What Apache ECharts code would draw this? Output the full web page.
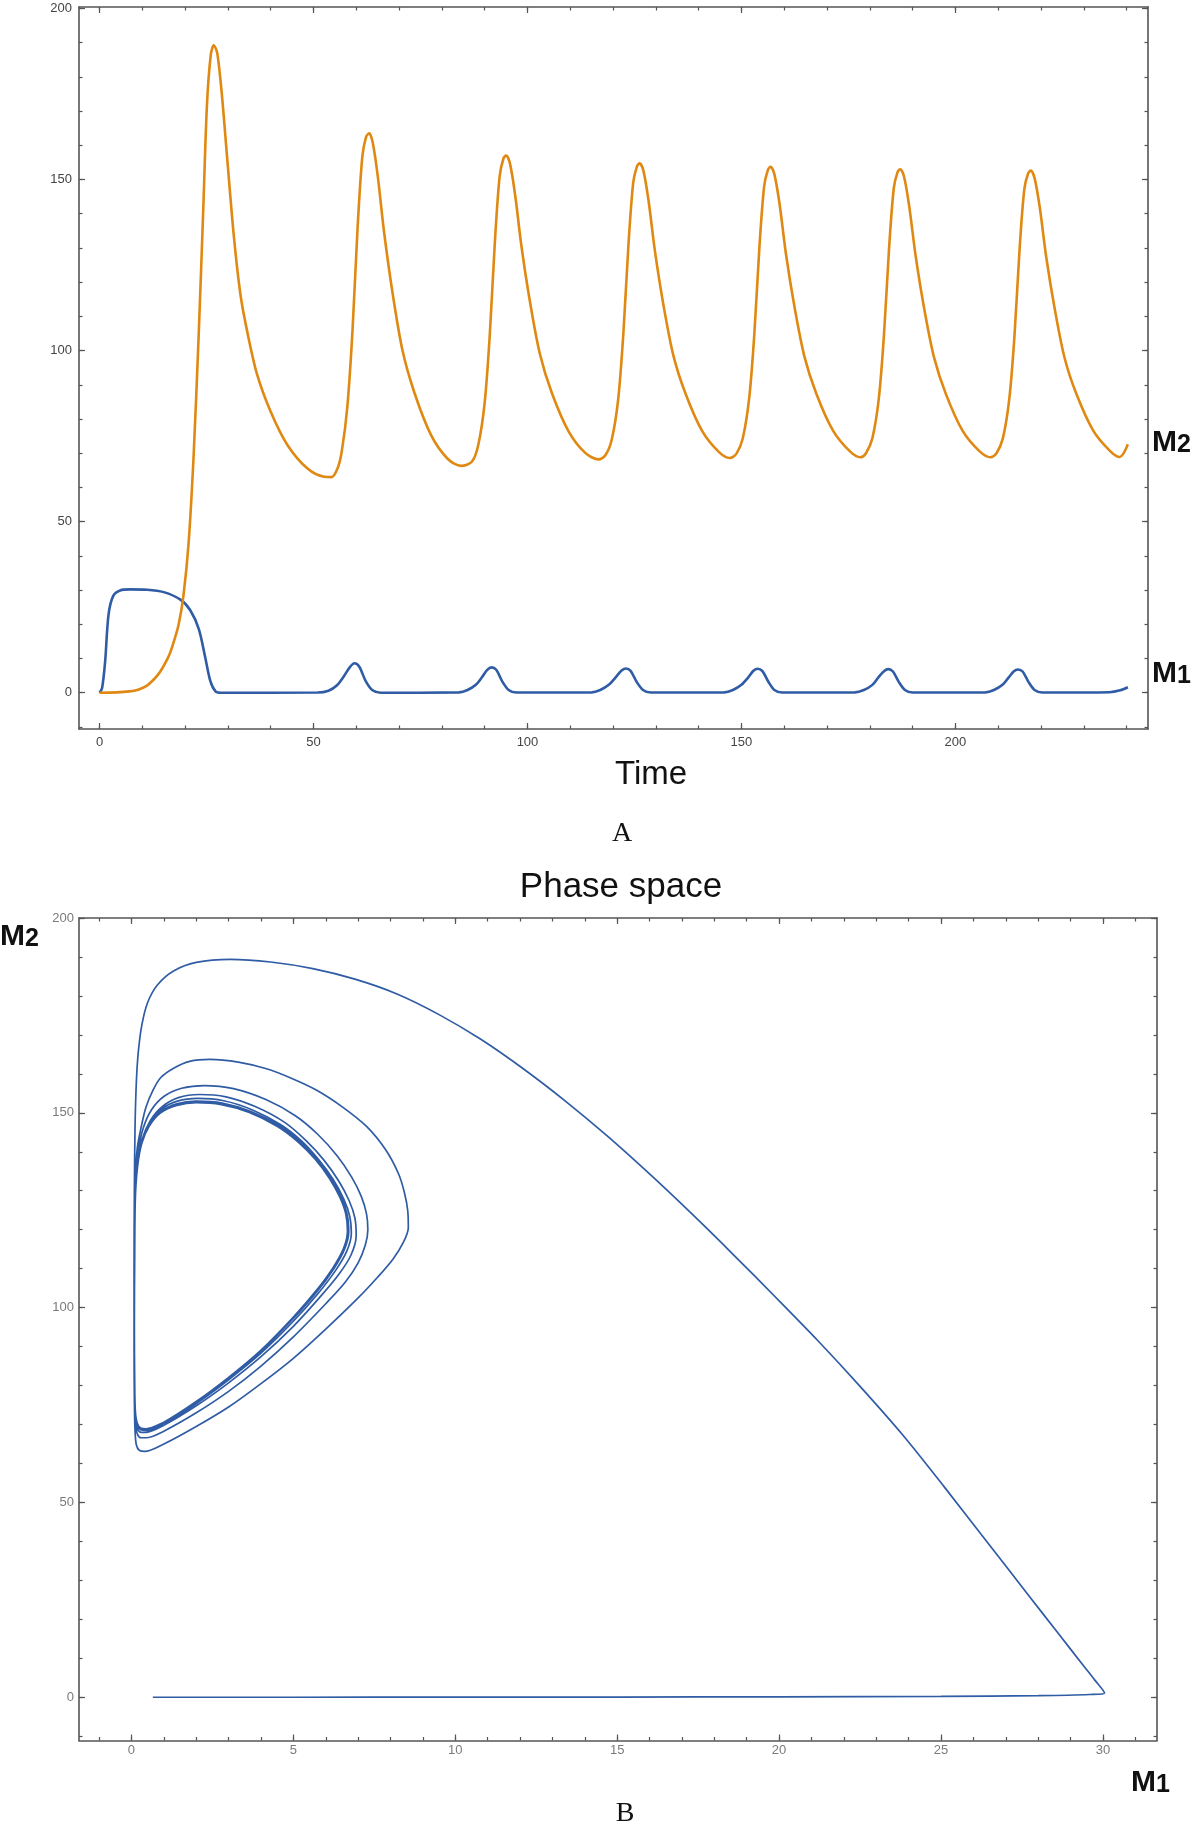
<!DOCTYPE html>
<html>
<head>
<meta charset="utf-8">
<title>M1 / M2 time course and phase space</title>
<script src="https://cdn.jsdelivr.net/npm/echarts@6/dist/echarts.min.js"></script>
<style>
  html, body { margin: 0; padding: 0; background: #fff; }
  #chart { width: 1193px; height: 1826px; }
</style>
</head>
<body>
<div id="chart"></div>
<script>
// ---- panel A: time course ----
const timeM1 = [0, 0.6, 1.3, 2.1, 3.2, 4.8, 7.2, 11.1, 15, 18.9, 21.2, 23.2, 24.7, 25.9, 27.1, 28.3,
  51, 53.5, 55.5, 57.1, 58.5, 59.6, 60.7, 62.2, 63.8, 65.7,
  84, 86, 88, 89.4, 90.6, 91.6, 92.7, 94.1, 95.6, 97.4,
  115, 117, 119, 120.6, 122, 123, 124.1, 125.5, 127, 128.8,
  146, 148, 150, 151.6, 152.8, 153.8, 154.9, 156.3, 157.7, 159.5,
  176.5, 178.6, 180.6, 182, 183.3, 184.3, 185.4, 186.8, 188.2, 190,
  207, 209, 211, 212.4, 213.6, 214.6, 215.7, 217.1, 218.5, 220.3,
  236, 238.5, 240.3];
const valuesM1 = [0, 1.4, 9, 22.8, 28.3, 29.9, 30.2, 30.1, 29.4, 27.2, 24.1, 18.6, 10.3, 3.4, 0.4, 0,
  0.05, 0.6, 2.2, 4.8, 7.5, 8.6, 7.6, 3.4, 0.7, 0,
  0.1, 0.8, 2.4, 4.6, 6.7, 7.4, 6.7, 3.3, 0.8, 0.05,
  0.1, 0.8, 2.3, 4.5, 6.5, 7.1, 6.4, 3.2, 0.8, 0.05,
  0.1, 0.8, 2.3, 4.5, 6.4, 7.0, 6.3, 3.2, 0.8, 0.05,
  0.1, 0.8, 2.3, 4.5, 6.3, 6.9, 6.2, 3.1, 0.8, 0.05,
  0.1, 0.8, 2.3, 4.4, 6.2, 6.8, 6.2, 3.1, 0.8, 0.05,
  0.15, 0.7, 1.6];

const timeM2 = [0, 4, 7, 9, 11, 13, 14.2, 15.5, 16.5, 17.5, 18.5, 19.6, 20.8, 22, 23.2, 24.2, 25.1, 26, 26.7,
  27.5, 28.6, 29.8, 31.4, 32.9, 34.5, 36.8, 40, 43.9, 48.6, 52.5, 54.2,
  55.6, 56.6, 57.9, 59.1, 60.3, 61.4, 62.3, 63, 63.8, 65, 66.5, 68.5, 70.8, 73.6, 77.5, 81.4, 84.5,
  87, 88.5, 90, 91.2, 92.4, 93.5, 94.4, 95, 95.9, 97.1, 98.6, 100.6, 102.9, 105.7, 109.6, 113.5, 116.6,
  118.2, 119.7, 121.2, 122.4, 123.6, 124.7, 125.6, 126.2, 127.1, 128.3, 129.8, 131.8, 134.1, 136.9, 140.8, 144.7, 147.3,
  148.8, 150.3, 151.8, 153, 154.2, 155.3, 156.2, 156.8, 157.7, 158.9, 160.4, 162.4, 164.7, 167.5, 171.4, 175.3, 177.8,
  179.1, 180.6, 182.1, 183.3, 184.5, 185.6, 186.5, 187.1, 188, 189.2, 190.7, 192.7, 195, 197.8, 201.7, 205.6, 208.2,
  209.6, 211.1, 212.6, 213.8, 215, 216.1, 217, 217.6, 218.5, 219.7, 221.2, 223.2, 225.5, 228.3, 232.2, 236.1, 238.4,
  240.3];
const valuesM2 = [0, 0.1, 0.4, 0.9, 2, 4.3, 6.2, 9, 11.7, 15.5, 20, 28.3, 43.5, 69.7, 105.6, 140, 171.8, 186.5, 189.2,
  187, 174.6, 156.6, 133.2, 116.6, 105.6, 93.1, 82.1, 72.4, 65.5, 63.1, 63,
  65.5, 70.5, 83.5, 105.6, 135.9, 156.6, 162.5, 163.5, 161, 151.1, 134.5, 116.6, 100, 87.6, 75.2, 68.3, 66.3,
  67.5, 72.4, 84.8, 104.8, 132.2, 151, 156.2, 157, 154.7, 145.6, 130.4, 114.1, 99, 87.6, 76.4, 70.1, 68.2,
  69.4, 74, 85.8, 104.9, 131, 149, 153.9, 154.7, 152.5, 143.7, 128.9, 113.1, 98.5, 87.5, 76.5, 70.4, 68.6,
  69.8, 74.3, 86, 104.6, 130.3, 148, 152.9, 153.7, 151.5, 142.9, 128.2, 112.7, 98.3, 87.4, 76.6, 70.6, 68.8,
  70, 74.4, 86, 104.5, 130, 147.5, 152.2, 153, 150.8, 142.2, 127.7, 112.3, 98, 87.2, 76.5, 70.6, 68.8,
  70, 74.4, 86, 104.3, 129.8, 147.2, 151.8, 152.6, 150.4, 141.9, 127.5, 112.2, 97.9, 87.2, 76.6, 70.7, 68.9,
  72.6];

const timeTicks = [0, 50, 100, 150, 200];
const timeMinorTicks = [0, 10, 20, 30, 40, 50, 60, 70, 80, 90, 100, 110, 120, 130, 140, 150, 160, 170, 180, 190, 200, 210, 220, 230, 240];
const levelTicks = [0, 50, 100, 150, 200];
const levelMinorTicks = [-10, 0, 10, 20, 30, 40, 50, 60, 70, 80, 90, 100, 110, 120, 130, 140, 150, 160, 170, 180, 190, 200];

// ---- panel B: phase space, [M1, M2] pairs in order of time ----
const phaseStart = [[0.66, 0], [5, 0], [10, 0.02], [15, 0.05], [20, 0.1], [25, 0.2], [28, 0.4], [29.6, 0.7], [30.05, 1.1]];
const phaseArc = [[29.75, 4.4], [29.4, 8.1], [28.6, 16.6], [27.7, 26.2], [26.4, 40.1], [25.1, 54], [23.8, 67.5], [22.5, 79.8],
  [21.2, 91.5], [19.9, 102.6], [18.6, 113.5], [17.3, 124.1], [16, 134.3], [14.7, 144], [13.4, 153], [12.1, 161.3],
  [10.8, 168.8], [9.5, 175.2], [8.2, 180.5], [6.9, 184.3], [5.6, 187], [4.3, 188.7], [3.05, 189.4], [2.0, 188.6],
  [1.3, 186.4], [0.8, 182.8], [0.5, 178.3], [0.32, 172.5], [0.21, 165.5], [0.15, 157.7], [0.11, 146], [0.09, 130],
  [0.08, 110], [0.08, 90], [0.09, 76], [0.11, 68.5], [0.15, 64.8], [0.24, 63.4], [0.41, 63.1]];
const phaseLoop1 = [[1, 65], [2, 69.5], [3, 74.5], [4, 80.5], [5, 87], [6, 94.5], [7, 102.5], [7.6, 107.8], [8.08, 112.5],
  [8.4, 116.8], [8.55, 120.5], [8.53, 125], [8.43, 129.5], [8.25, 134.3], [7.85, 140.5], [7.26, 146.5], [6.5, 151.6],
  [5.72, 155.8], [4.9, 159], [4.17, 161.3], [3.3, 163], [2.42, 163.7], [1.8, 163.2], [1.29, 161.4], [0.9, 159],
  [0.67, 155.9], [0.45, 151.5], [0.31, 146.7], [0.18, 141], [0.12, 133], [0.1, 120], [0.09, 105], [0.09, 88],
  [0.1, 76], [0.13, 70], [0.19, 67.4], [0.3, 66.6], [0.45, 66.6]];
const phaseLoop2 = [[1, 68.3], [2, 73], [3, 78.5], [4, 85], [5, 92.5], [6, 101], [6.6, 106.5], [7.0, 111.5], [7.22, 116],
  [7.3, 120], [7.26, 124], [7.1, 128.5], [6.8, 133.5], [6.35, 139], [5.75, 144.5], [5.05, 149.3], [4.15, 153.4],
  [3.15, 156.2], [2.25, 157], [1.55, 156.3], [1.02, 154.3], [0.62, 150.8], [0.36, 146], [0.21, 140], [0.13, 132],
  [0.1, 118], [0.09, 100], [0.09, 85], [0.1, 76], [0.13, 71], [0.19, 68.8], [0.3, 68], [0.45, 68]];
const phaseLoop3 = [[1, 69.8], [2, 74.8], [3, 80.7], [4, 87.4], [5, 95.2], [5.8, 102.5], [6.4, 108.5], [6.78, 113.5],
  [6.94, 118.5], [6.9, 123], [6.72, 127.5], [6.4, 132.5], [5.95, 137.8], [5.4, 142.8], [4.72, 147.6], [3.82, 151.6],
  [2.92, 154.1], [2.1, 154.7], [1.45, 153.9], [0.95, 151.6], [0.58, 148], [0.33, 143.2], [0.19, 137], [0.12, 128],
  [0.1, 113], [0.09, 95], [0.1, 81], [0.12, 73.5], [0.18, 70], [0.3, 68.6], [0.45, 68.5]];
const phaseLoop4 = [[1, 70.3], [2, 75.4], [3, 81.5], [4, 88.3], [5, 96.5], [5.75, 103.5], [6.3, 109.5], [6.65, 114.5],
  [6.79, 119], [6.74, 123.5], [6.55, 128], [6.22, 133], [5.78, 138], [5.25, 142.8], [4.6, 147], [3.72, 150.8],
  [2.85, 153.1], [2.05, 153.7], [1.42, 153], [0.92, 150.9], [0.56, 147.4], [0.32, 142.8], [0.19, 136.8], [0.12, 128],
  [0.1, 113], [0.09, 95], [0.1, 81], [0.12, 73.5], [0.18, 70.2], [0.3, 68.9], [0.45, 68.8]];
const phaseLoop5 = [[1, 70.5], [2, 75.7], [3, 81.9], [4, 88.8], [5, 97.2], [5.72, 104], [6.25, 110], [6.58, 115],
  [6.71, 119.5], [6.66, 124], [6.47, 128.5], [6.15, 133.3], [5.72, 138.2], [5.18, 142.8], [4.54, 146.8], [3.67, 150.4],
  [2.8, 152.5], [2.0, 153], [1.4, 152.3], [0.9, 150.3], [0.55, 146.9], [0.32, 142.4], [0.19, 136.5], [0.12, 128],
  [0.1, 113], [0.09, 95], [0.1, 81], [0.12, 73.5], [0.18, 70.2], [0.3, 69], [0.45, 68.9]];
const phaseLoop6 = [[1, 70.6], [2, 75.9], [3, 82.1], [4, 89.1], [5, 97.6], [5.7, 104.3], [6.22, 110.2], [6.55, 115.2],
  [6.67, 119.6], [6.62, 124], [6.43, 128.4], [6.11, 133.2], [5.68, 138], [5.15, 142.5], [4.51, 146.5], [3.64, 150.1],
  [2.78, 152.1], [2.0, 152.6], [1.4, 151.9], [0.9, 150], [0.55, 146.6], [0.32, 142.2], [0.19, 136.3], [0.12, 128],
  [0.1, 113], [0.09, 95], [0.1, 81], [0.12, 73.5], [0.18, 70.3], [0.3, 69], [0.45, 68.9]];
const phaseEnd = [[1, 70.6], [1.6, 73.3]];

const m1Ticks = [0, 5, 10, 15, 20, 25, 30];
const m1MinorTicks = [-1, 0, 1, 2, 3, 4, 5, 6, 7, 8, 9, 10, 11, 12, 13, 14, 15, 16, 17, 18, 19, 20, 21, 22, 23, 24, 25, 26, 27, 28, 29, 30, 31];

// 颜色
const FRAME = '#555555';
const BLUE = '#2f5ca4';
const ORANGE = '#df8912';

// Mathematica style frame: 4 sides, major + minor ticks pointing inward
function frameAxes(gridIndex, dim, min, max, majors, minors, label) {
  const sides = dim === 'x' ? ['bottom', 'top'] : ['left', 'right'];
  const axes = [];
  sides.forEach((side, i) => {
    [majors, minors].forEach((ticks, j) => {
      axes.push({
        type: 'value',
        gridIndex: gridIndex,
        position: side,
        min: min,
        max: max,
        axisLine: { show: j === 0, onZero: false, lineStyle: { color: FRAME, width: 1.6 } },
        axisTick: {
          inside: true,
          length: j === 0 ? 6 : 3.5,
          customValues: ticks,
          lineStyle: { color: FRAME, width: 1.2 }
        },
        axisLabel: (i === 0 && j === 0) ? Object.assign({ customValues: majors }, label) : { show: false },
        splitLine: { show: false }
      });
    });
  });
  return axes;
}

const zip = (xs, ys) => xs.map((x, i) => [x, ys[i]]);
const phaseData = [].concat(phaseStart, phaseArc, phaseLoop1, phaseLoop2, phaseLoop3,
  phaseLoop4, phaseLoop5, phaseLoop6, phaseEnd);

const labelA = { fontFamily: 'Liberation Sans', fontSize: 13, color: '#444' };
const labelB = { fontFamily: 'Liberation Sans', fontSize: 13, color: '#7a7a7a' };

const mRich = {
  m: { fontFamily: 'Liberation Sans', fontWeight: 'bold', fontSize: 30, lineHeight: 30, verticalAlign: 'bottom', fill: '#111' },
  d: { fontFamily: 'Liberation Sans', fontWeight: 'bold', fontSize: 25, lineHeight: 25, verticalAlign: 'bottom', fill: '#111' }
};
function mLabel(x, y, digit) {
  return {
    type: 'text', x: x, y: y,
    style: { text: '{m|M}{d|' + digit + '}', rich: mRich, textVerticalAlign: 'middle' }
  };
}
function plainText(x, y, text, font, size) {
  return {
    type: 'text', x: x, y: y,
    style: { text: text, fontFamily: font, fontSize: size, fill: '#111', textAlign: 'center', textVerticalAlign: 'middle' }
  };
}

const chart = echarts.init(document.getElementById('chart'), null, { renderer: 'canvas' });

const option = {
  backgroundColor: '#ffffff',
  animation: false,
  grid: [
    { left: 79, top: 7, width: 1069, height: 722 },
    { left: 79, top: 918, width: 1078, height: 822.5 }
  ],
  xAxis: [].concat(
    frameAxes(0, 'x', -4.8, 245, timeTicks, timeMinorTicks, Object.assign({ margin: 7 }, labelA)),
    frameAxes(1, 'x', -1.62, 31.67, m1Ticks, m1MinorTicks, Object.assign({ margin: 3 }, labelB))
  ),
  yAxis: [].concat(
    frameAxes(0, 'y', -10.6, 200.4, levelTicks, levelMinorTicks, Object.assign({ margin: 7 }, labelA)),
    frameAxes(1, 'y', -11.1, 200, levelTicks, levelMinorTicks, Object.assign({ margin: 5 }, labelB))
  ),
  series: [
    {
      name: 'M1', type: 'line', xAxisIndex: 0, yAxisIndex: 0,
      data: zip(timeM1, valuesM1),
      showSymbol: false, smooth: 0.3,
      lineStyle: { color: BLUE, width: 2.6 }
    },
    {
      name: 'M2', type: 'line', xAxisIndex: 0, yAxisIndex: 0,
      data: zip(timeM2, valuesM2),
      showSymbol: false, smooth: 0.3,
      lineStyle: { color: ORANGE, width: 2.6 }
    },
    {
      name: 'phase', type: 'line', xAxisIndex: 4, yAxisIndex: 4,
      data: phaseData,
      showSymbol: false, smooth: 0.3,
      lineStyle: { color: BLUE, width: 1.7 }
    }
  ],
  graphic: [
    mLabel(1152, 443, '2'),
    mLabel(1152, 674, '1'),
    plainText(651, 775, 'Time', 'Liberation Sans', 33),
    plainText(622, 834, 'A', 'Liberation Serif', 28),
    plainText(621, 887, 'Phase space', 'Liberation Sans', 35),
    mLabel(0, 937, '2'),
    mLabel(1131, 1783, '1'),
    plainText(625, 1814, 'B', 'Liberation Serif', 28)
  ]
};

chart.setOption(option);
</script>
</body>
</html>
